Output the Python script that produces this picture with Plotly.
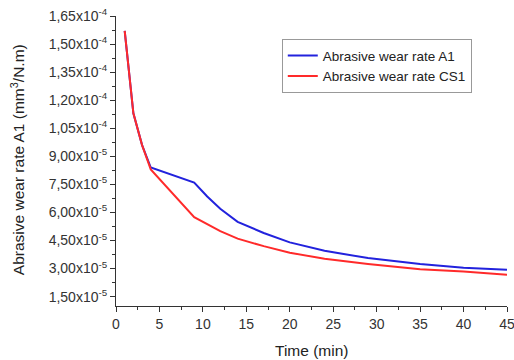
import plotly.graph_objects as go

time_a1 = [1, 2, 3, 4, 9, 10.5, 12, 14, 17, 20, 24, 29, 35, 40, 45]
rate_a1 = [1.57e-4, 1.13e-4, 9.6e-5, 8.4e-5, 7.6e-5, 6.85e-5, 6.2e-5, 5.5e-5, 4.9e-5, 4.4e-5, 3.95e-5, 3.56e-5, 3.25e-5, 3.05e-5, 2.94e-5]
time_cs1 = [1, 2, 3, 4, 9, 12, 14, 17, 20, 24, 29, 35, 40, 45]
rate_cs1 = [1.57e-4, 1.13e-4, 9.6e-5, 8.3e-5, 5.75e-5, 5.0e-5, 4.6e-5, 4.2e-5, 3.85e-5, 3.52e-5, 3.25e-5, 2.97e-5, 2.84e-5, 2.67e-5]

y_tickvals = [1.5e-5, 3.0e-5, 4.5e-5, 6.0e-5, 7.5e-5, 9.0e-5, 1.05e-4, 1.2e-4, 1.35e-4, 1.5e-4, 1.65e-4]
y_ticktext = ["1,50x10<sup>-5</sup>", "3,00x10<sup>-5</sup>", "4,50x10<sup>-5</sup>", "6,00x10<sup>-5</sup>",
              "7,50x10<sup>-5</sup>", "9,00x10<sup>-5</sup>", "1,05x10<sup>-4</sup>", "1,20x10<sup>-4</sup>",
              "1,35x10<sup>-4</sup>", "1,50x10<sup>-4</sup>", "1,65x10<sup>-4</sup>"]

x_title = "Time (min)"
y_title = "Abrasive wear rate A1 (mm<sup>3</sup>/N.m)"

fig = go.Figure()
fig.add_trace(go.Scatter(x=time_a1, y=rate_a1, mode="lines", name="Abrasive wear rate A1",
                         line=dict(color="#2222dd", width=2)))
fig.add_trace(go.Scatter(x=time_cs1, y=rate_cs1, mode="lines", name="Abrasive wear rate CS1",
                         line=dict(color="#ff2a2a", width=2)))

axis_font = dict(family="Liberation Sans, Arial, sans-serif", size=14, color="#333333")
fig.update_layout(
    width=514, height=360,
    margin=dict(l=116, r=7, t=16, b=54),
    paper_bgcolor="white", plot_bgcolor="white",
    font=dict(family="Liberation Sans, Arial, sans-serif", color="#222222"),
    legend=dict(x=0.424, y=0.92, xanchor="left", yanchor="top",
                bordercolor="#999999", borderwidth=1, bgcolor="white", itemwidth=30,
                font=dict(size=13.5, color="#222222"), tracegroupgap=0),
    xaxis=dict(range=[0, 45], tickmode="array", tickvals=list(range(0, 50, 5)),
               ticks="outside", ticklen=5, tickcolor="#333333", automargin=False,
               ticklabeloverflow="allow",
               showline=True, linecolor="#333333", linewidth=1, showgrid=False, zeroline=False,
               tickfont=axis_font,
               minor=dict(ticks="outside", ticklen=3, tickcolor="#333333", tick0=0, dtick=2.5)),
    yaxis=dict(range=[1.0e-5, 1.65e-4], tickmode="array", tickvals=y_tickvals, ticktext=y_ticktext,
               ticks="outside", ticklen=5, tickcolor="#333333", automargin=False,
               ticklabeloverflow="allow",
               showline=True, linecolor="#333333", linewidth=1, showgrid=False, zeroline=False,
               tickfont=axis_font,
               minor=dict(ticks="outside", ticklen=3, tickcolor="#333333", tick0=0.75e-5, dtick=1.5e-5)),
    annotations=[
        dict(text=x_title, xref="paper", yref="paper", x=0.499, y=-0.152, xanchor="center", yanchor="middle",
             showarrow=False, font=dict(size=15.5, color="#222222")),
        dict(text=y_title, xref="paper", yref="paper", x=-0.2506, y=0.503, xanchor="center", yanchor="middle",
             textangle=-90, showarrow=False, font=dict(size=15.5, color="#222222")),
    ],
)

fig.write_html("out.html", config={"displayModeBar": False},
               post_script="document.body.style.margin='0';document.body.style.overflow='hidden';")
